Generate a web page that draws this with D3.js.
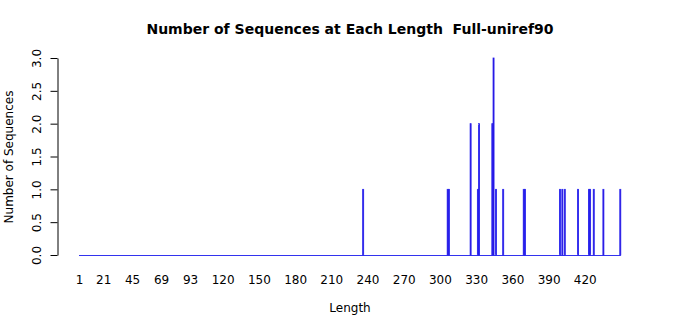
<!DOCTYPE html>
<html>
<head>
<meta charset="utf-8">
<script src="https://cdn.jsdelivr.net/npm/d3@7"></script>
<style>
  body { margin: 0; background: #fff; }
  text { font-family: "DejaVu Sans", sans-serif; fill: #000; }
</style>
</head>
<body>
<div id="chart"></div>
<script>
// Lengths with at least one sequence, and how many
var lengths = [236, 306, 307, 325, 331, 332, 343, 344, 346, 352, 369, 370, 399, 401, 403, 414, 423, 424, 427, 435, 449];
var counts  = [1,   1,   1,   2,   1,   2,   2,   3,   1,   1,   1,   1,   1,   1,   1,   1,   1,   1,   1,   1,   1];
var maxLength = 449;
var xLabels = [1, 21, 45, 69, 93, 120, 150, 180, 210, 240, 270, 300, 330, 360, 390, 420];
var yTicks = [0, 0.5, 1, 1.5, 2, 2.5, 3];

var width = 700, height = 315;

var svg = d3.select("#chart").append("svg")
    .attr("width", width)
    .attr("height", height);

//Scales
var xScale = d3.scaleLinear()
    .domain([1, maxLength])
    .range([79.5, 620.3]);
var yScale = d3.scaleLinear()
    .domain([0, 3])
    .range([255, 58]);

var step = xScale(2) - xScale(1);
var barW = step / 1.2;

// zero-height bars show as a line along the bottom
svg.append("line")
    .attr("x1", xScale(1) - barW / 2)
    .attr("x2", xScale(maxLength) + barW / 2)
    .attr("y1", yScale(0) + 0.5)
    .attr("y2", yScale(0) + 0.5)
    .style("stroke", "#3333ee")
    .style("stroke-width", 1.2);

svg.append("g")
    .selectAll("rect")
    .data(lengths)
    .enter()
    .append("rect")
    .attr("x", function(d) { return xScale(d) - barW / 2; })
    .attr("width", barW)
    .attr("y", function(d, i) { return yScale(counts[i]); })
    .attr("height", function(d, i) { return yScale(0) - yScale(counts[i]); })
    .style("fill", "#3300cc")
    .style("stroke", "#2020f0")
    .style("stroke-width", 0.8);

// y axis, R style
var yAxis = d3.axisLeft(yScale)
    .tickValues(yTicks)
    .tickSize(7)
    .tickSizeOuter(0)
    .tickFormat(d3.format(".1f"));

var gy = svg.append("g")
    .attr("transform", "translate(57.5,0)")
    .call(yAxis);
gy.select(".domain").attr("stroke", "#000");
gy.selectAll(".tick line").attr("stroke", "#000");
gy.selectAll(".tick text")
    .attr("x", 0)
    .attr("dy", 0)
    .attr("transform", "translate(-17,0)rotate(-90)")
    .style("text-anchor", "middle")
    .style("font-size", "12px")
    .style("font-family", "DejaVu Sans");

// x labels only
svg.append("g")
    .selectAll("text")
    .data(xLabels)
    .enter()
    .append("text")
    .attr("x", function(d) { return xScale(d); })
    .attr("y", 283.5)
    .style("text-anchor", "middle")
    .style("font-size", "12px")
    .text(function(d) { return d; });

svg.append("text")
    .attr("x", 350)
    .attr("y", 312)
    .style("text-anchor", "middle")
    .style("font-size", "12px")
    .text("Length");

svg.append("text")
    .attr("transform", "translate(13,157)rotate(-90)")
    .style("text-anchor", "middle")
    .style("font-size", "12px")
    .text("Number of Sequences");

svg.append("text")
    .attr("x", 350)
    .attr("y", 34)
    .style("text-anchor", "middle")
    .style("font-size", "14px")
    .style("font-weight", "bold")
    .style("white-space", "pre")
    .text("Number of Sequences at Each Length  Full-uniref90");
</script>
</body>
</html>
